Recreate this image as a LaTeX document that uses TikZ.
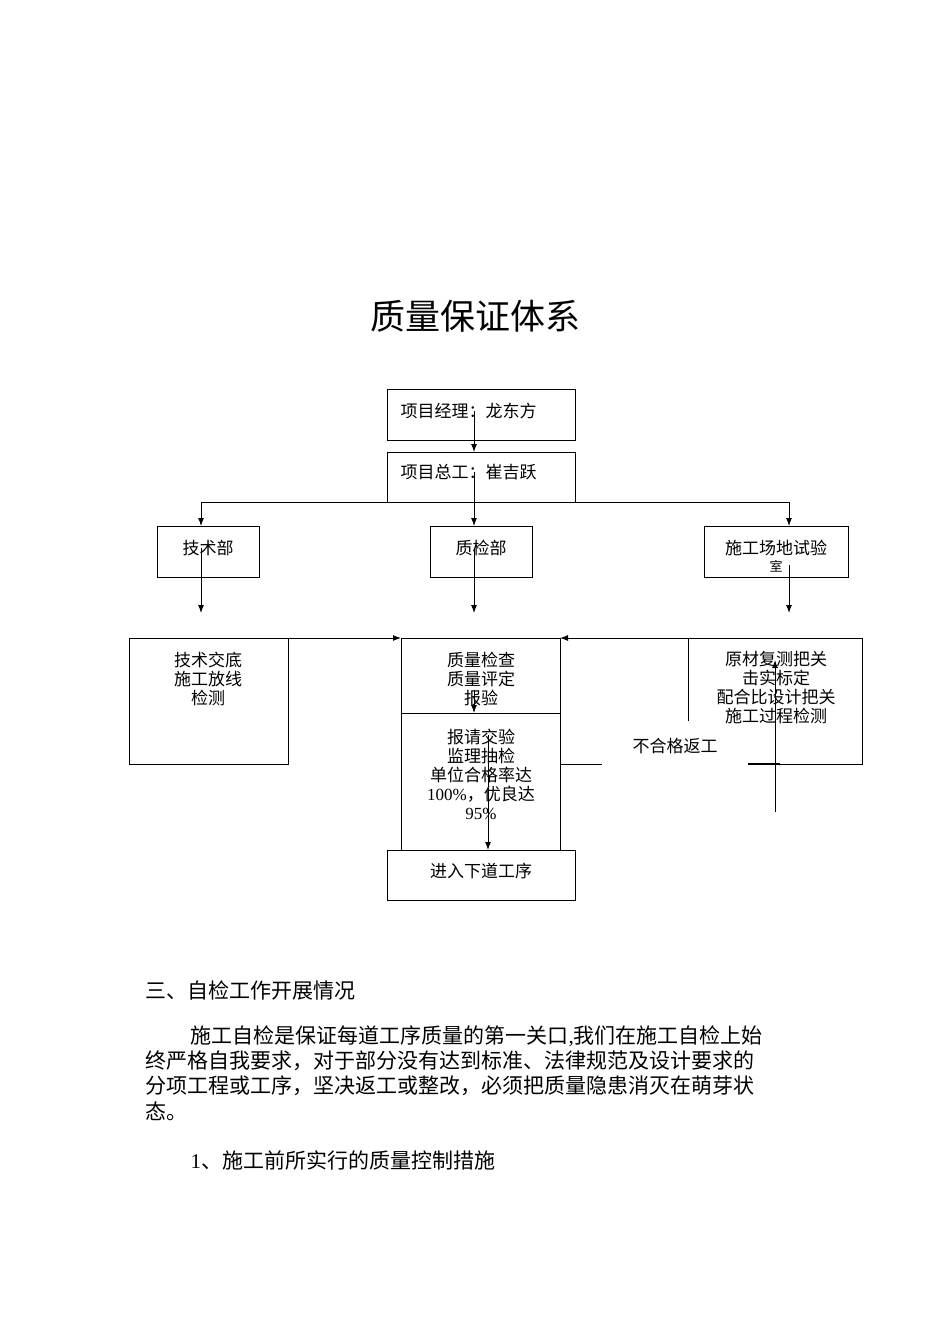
\documentclass[tikz,border=0pt]{standalone}
\usepackage{fontspec}
\setmainfont{Liberation Serif}
\newfontfamily\cjk{Noto Sans CJK SC}
\begin{document}
\begin{tikzpicture}[x=1pt,y=-1pt,line width=1pt,
  bx/.style={draw,line width=1pt},
  t/.style={font=\cjk\fontsize{17}{19}\selectfont,inner sep=0pt,align=center},
  ar/.style={-{Latex[length=8pt,width=6pt]}},
  p/.style={font=\cjk\fontsize{21}{25}\selectfont,inner sep=0pt,anchor=west}]
\usetikzlibrary{arrows.meta}
\useasboundingbox (0,0) rectangle (950,1344);
\node[font=\cjk\fontsize{35}{40}\selectfont] (title) at (475,316) {质量保证体系};
% boxes
\draw[bx] (387,389) rectangle (575,440); \node[t,anchor=west] (pm) at (400,411) {项目经理：龙东方};
\draw[bx] (387,452) rectangle (575,502); \node[t,anchor=west] (zg) at (400,472) {项目总工：崔吉跃};
\draw[bx] (157,526) rectangle (259,577); \node[t] (js) at (208,548) {技术部};
\draw[bx] (430,526) rectangle (532,577); \node[t] (zj) at (481,548) {质检部};
\draw[bx] (704,526) rectangle (848,577); \node[t] (sy) at (776,548) {施工场地试验};
\node[t,font=\cjk\fontsize{13}{14}\selectfont] (shi) at (776,566) {室};
\draw[bx] (129,638) rectangle (288,764);
\node[t] (jd) at (208,679) {技术交底\\施工放线\\检测};
\draw[bx] (401,638) rectangle (560,713);
\node[t] (zl) at (481,679) {质量检查\\质量评定\\报验};
\draw[bx] (401,713) -- (401,850) (560,713) -- (560,850);
\node[t] (bq) at (481,774) {报请交验\\监理抽检\\单位合格率达\\\fontspec{Liberation Serif}100\%{\cjk，}{\cjk 优良达}\\\fontspec{Liberation Serif}95\%};
\draw[bx] (387,850) rectangle (575,900); \node[t] (jr) at (481,871) {进入下道工序};
\draw[bx] (688,721) -- (688,638) -- (862,638) -- (862,764) -- (748,764);
\draw[line width=2pt] (748,764) -- (780,764);
\node[t] (yc) at (776,688) {原材复测把关\\击实标定\\配合比设计把关\\施工过程检测};
\node[t] (bh) at (675,746) {不合格返工};
% connectors
\coordinate (a1) at (474,411); \coordinate (a2) at (474,452);
\draw[ar] (a1) -- (a2);
\coordinate (h0) at (474,472); \coordinate (hl) at (201,502); \coordinate (hr) at (789,502);
\draw (hl) -- (hr) (h0) -- (474,502);
\draw[ar] (hl) -- (201,526);
\draw[ar] (474,502) -- (474,526);
\draw[ar] (hr) -- (789,526);
\draw[ar] (201,548) -- (201,613);
\draw[ar] (474,548) -- (474,613);
\draw[ar] (789,565) -- (789,613);
\draw[ar] (288,638) -- (401,638);
\draw[ar] (688,638) -- (560,638);
\draw[ar] (474,690) -- (474,713);
\draw[ar] (488,735) -- (488,850);
\draw (560,764) -- (602,764);
\draw[ar] (775,812) -- (775,660);
% text
\node[p] (s3) at (145,990) {三、自检工作开展情况};
\node[p] (l1) at (190,1036) {施工自检是保证每道工序质量的第一关口{\fontspec{Liberation Serif},}我们在施工自检上始};
\node[p] (l2) at (145,1061) {终严格自我要求，对于部分没有达到标准、法律规范及设计要求的};
\node[p] (l3) at (145,1086) {分项工程或工序，坚决返工或整改，必须把质量隐患消灭在萌芽状};
\node[p] (l4) at (145,1111) {态。};
\node[p] (l5) at (190,1160) {{\fontspec{Liberation Serif}1}、施工前所实行的质量控制措施};
\end{tikzpicture}
\end{document}
